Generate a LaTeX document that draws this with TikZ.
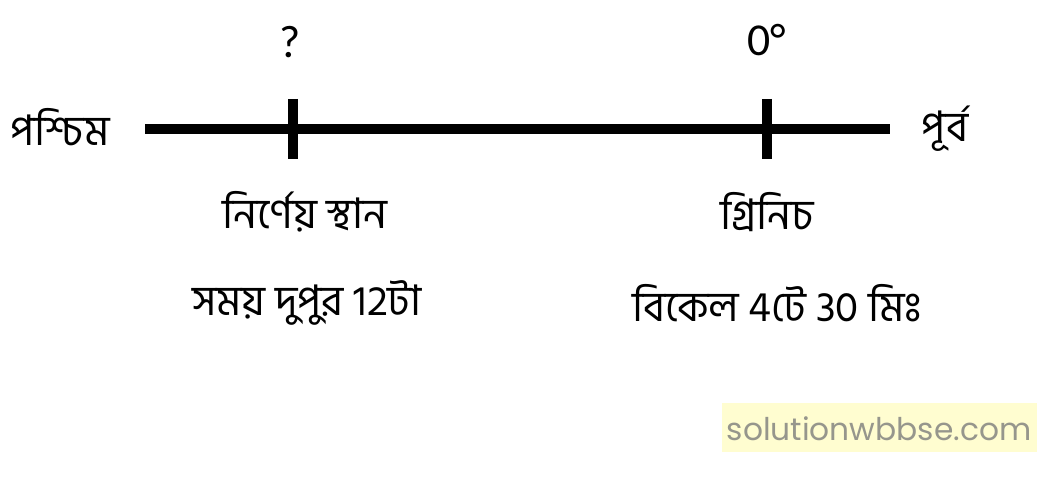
\documentclass[tikz,border=0pt]{standalone}
\usepackage{fontspec}
\newfontfamily\bnfont[Script=Bengali]{Hind Siliguri}
\newfontfamily\latfont{Carlito}
\newfontfamily\wmfont{Poppins}
\usetikzlibrary{positioning}

\begin{document}
\begin{tikzpicture}[
	bn/.style={font=\bnfont\fontsize{12}{14}\selectfont},
	lat/.style={font=\latfont\fontsize{13}{15}\selectfont}]
\useasboundingbox (0,0) rectangle (10.5,4.91);
% the line from west to east
\coordinate (w) at (1.45,3.62);
\coordinate (e) at (8.9,3.62);
\coordinate (p) at (2.93,3.62);
\coordinate (g) at (7.67,3.62);
\draw[line width=2.6pt](w)--(e);
\foreach \x in {p,g}
	\draw[line width=2.8pt]([yshift=3mm]\x)--([yshift=-3mm]\x);

\node[bn] (west) at (0.60,3.64) {পশ্চিম};
\node[bn] (east) at (9.45,3.62) {পূর্ব};
\node[lat] (q) at (2.90,4.49) {?};
\node[lat] (zero) at (7.67,4.51) {0°};
\node[bn] (place) at (3.05,2.79) {নির্ণেয় স্থান};
\node[bn] (green) at (7.67,2.79) {গ্রিনিচ};
\node[bn] (noon) at (3.07,1.88) {সময় দুপুর 12টা};
\node[bn] (eve) at (7.77,1.88) {বিকেল 4টে 30 মিঃ};

% watermark
\fill[color={rgb,255:red,255;green,253;blue,208}](7.22,0.39)rectangle(10.37,0.88);
\node[font=\wmfont\fontsize{8.9}{11}\selectfont,color={rgb,255:red,150;green,150;blue,140}] (wm) at (8.79,0.62) {solutionwbbse.com};
\end{tikzpicture}
\end{document}
